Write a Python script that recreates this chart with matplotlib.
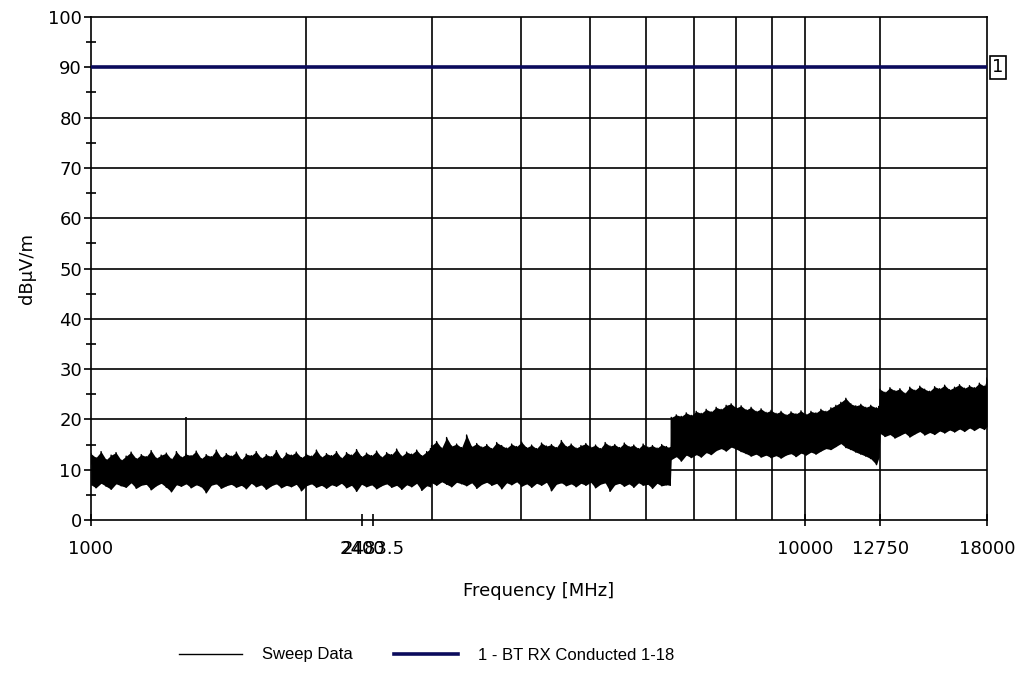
import matplotlib
matplotlib.use("Agg")
import matplotlib.pyplot as plt
import numpy as np

plt.rcParams['font.family'] = ['DejaVu Sans']

# ---- data (sweep envelope, per segment) ----
freq_a = [1000, 1016, 1033, 1050, 1067, 1084, 1102, 1120, 1138, 1157, 1176, 1195, 1214, 1234,
          1254, 1275, 1296, 1317, 1338, 1359, 1381, 1404, 1427, 1450, 1474, 1498, 1522, 1547,
          1572, 1598, 1624, 1650, 1677, 1704, 1732, 1760, 1789, 1818, 1848, 1878, 1908, 1939,
          1971, 2003, 2036, 2069, 2103, 2137, 2172, 2207, 2243, 2280, 2317, 2355, 2393, 2432,
          2472, 2512, 2553, 2595, 2637, 2680, 2724, 2768, 2813, 2859, 2906, 2953, 2990]
hi_a = [13.2, 12.4, 13.6, 12.0, 12.9, 13.4, 11.9, 12.7, 13.5, 12.2,
        13.0, 12.6, 13.8, 12.3, 12.9, 13.3, 12.1, 13.6, 12.5, 13.1,
        12.8, 13.7, 12.2, 13.0, 12.6, 13.9, 12.4, 13.2, 12.7, 13.5,
        12.0, 13.1, 12.8, 13.6, 12.3, 13.0, 12.6, 13.8, 12.2, 13.3,
        12.9, 13.5, 12.4, 13.1, 12.7, 13.9, 12.5, 13.2, 12.8, 13.6,
        12.3, 13.4, 12.9, 14.0, 12.6, 13.3, 12.8, 13.7, 12.5, 13.4,
        13.0, 14.1, 12.7, 13.5, 13.1, 13.9, 12.8, 13.6, 14.2]
lo_a = [7.0, 6.4, 7.3, 6.7, 6.1, 7.2, 6.8, 6.5, 7.4, 6.3,
        6.9, 7.1, 6.0, 6.8, 7.3, 6.5, 5.6, 7.0, 6.7, 7.2,
        6.4, 7.0, 6.6, 5.4, 6.9, 7.2, 6.3, 6.8, 7.1, 6.5,
        6.9, 6.2, 7.3, 6.6, 7.0, 6.1, 6.8, 7.2, 6.4, 6.9,
        6.6, 7.1, 5.8, 6.8, 7.2, 6.5, 6.9, 6.3, 7.0, 6.7,
        7.3, 6.4, 6.9, 5.7, 7.1, 6.6, 7.0, 6.2, 6.8, 7.2,
        6.5, 6.9, 6.1, 7.0, 6.6, 7.3, 5.9, 6.8, 6.6]

freq_b = [3000, 3049, 3099, 3149, 3200, 3252, 3305, 3359, 3414, 3470,
          3527, 3584, 3642, 3701, 3761, 3822, 3884, 3947, 4011, 4076,
          4142, 4209, 4277, 4346, 4416, 4487, 4559, 4632, 4706, 4781,
          4857, 4934, 5012, 5091, 5171, 5252, 5334, 5417, 5501, 5586,
          5672, 5759, 5847, 5936, 6026, 6117, 6209, 6302, 6400, 6480]
hi_b = [14.8, 15.6, 14.3, 16.4, 14.7, 15.1, 14.4, 16.9, 14.6, 15.2,
        14.5, 15.0, 14.2, 15.4, 14.8, 14.3, 15.1, 14.6, 15.5, 14.4,
        14.9, 14.2, 15.3, 14.7, 15.0, 14.4, 15.8, 14.6, 15.1, 14.3,
        14.8, 15.2, 14.5, 14.9, 14.2, 15.4, 14.7, 15.0, 14.4, 15.3,
        14.6, 14.9, 14.2, 15.1, 14.5, 14.8, 14.3, 15.0, 14.6, 14.4]
lo_b = [7.4, 6.9, 7.6, 7.1, 6.6, 7.5, 7.2, 6.8, 7.4, 6.3,
        7.1, 7.5, 6.9, 7.3, 6.2, 7.4, 7.0, 7.6, 6.7, 7.2,
        6.5, 7.3, 6.9, 7.5, 5.8, 7.1, 7.4, 6.8, 7.2, 6.6,
        7.3, 6.9, 7.5, 6.4, 7.1, 7.4, 5.7, 7.0, 7.3, 6.7,
        7.2, 6.5, 7.4, 6.9, 7.1, 6.3, 7.3, 6.8, 7.0, 6.9]

freq_c = [6500, 6606, 6713, 6822, 6933, 7045, 7159, 7275, 7393, 7513,
          7635, 7759, 7885, 8013, 8143, 8275, 8409, 8545, 8684, 8825,
          8968, 9113, 9261, 9411, 9564, 9719, 9877, 10037, 10200, 10365,
          10533, 10704, 10878, 11054, 11233, 11415, 11600, 11788, 11979, 12173,
          12370, 12600, 12700]
hi_c = [20.4, 20.9, 20.6, 21.3, 20.8, 21.6, 21.2, 22.0, 21.5, 22.4,
        22.0, 22.8, 23.1, 22.3, 22.7, 21.9, 22.4, 21.6, 22.1, 21.4,
        21.8, 21.2, 21.6, 20.9, 21.5, 21.1, 21.7, 21.0, 21.6, 21.3,
        22.0, 21.6, 22.3, 22.8, 23.4, 24.2, 23.1, 22.7, 23.0, 22.4,
        22.8, 22.3, 22.6]
lo_c = [12.0, 12.6, 11.7, 12.9, 12.4, 13.0, 12.5, 13.4, 13.0, 13.8,
        14.2, 13.7, 14.5, 14.1, 13.6, 13.2, 12.7, 13.1, 12.5, 12.9,
        12.4, 12.8, 12.3, 12.9, 13.2, 12.6, 13.3, 12.9, 13.5, 13.1,
        13.7, 14.2, 14.0, 14.6, 15.2, 14.4, 14.0, 13.5, 13.1, 12.7,
        12.2, 11.0, 12.4]

freq_d = [12750, 12950, 13160, 13370, 13590, 13810, 14030, 14260, 14490, 14720,
          14960, 15200, 15450, 15700, 15950, 16210, 16470, 16740, 17010, 17280,
          17560, 17850, 18000]
hi_d = [26.0, 25.4, 26.3, 25.7, 26.1, 25.2, 26.4, 25.8, 26.6, 26.0,
        25.6, 26.5, 26.1, 26.8, 25.9, 26.4, 26.9, 26.2, 26.7, 26.3,
        27.2, 26.6, 28.2]
lo_d = [17.2, 16.6, 17.0, 16.3, 16.8, 17.3, 16.5, 17.1, 17.6, 16.9,
        17.4, 17.0, 17.7, 17.3, 17.9, 17.5, 18.1, 17.6, 18.3, 17.8,
        18.4, 18.0, 18.6]

# narrow single-bin spike in the sweep
spike_freq = [1359]
spike_top = [20.5]
spike_base = [12.0]

limit_freq = [1000, 18000]
limit_val = [90, 90]

xtick_vals = [1000, 2400, 2483.5, 10000, 12750, 18000]
xtick_labels = ['1000', '2400', '2483.5', '10000', '12750', '18000']
xgrid_vals = [2000, 3000, 4000, 5000, 6000, 7000, 8000, 9000, 10000, 12750]
yticks = [0, 10, 20, 30, 40, 50, 60, 70, 80, 90, 100]
yminor = [5, 15, 25, 35, 45, 55, 65, 75, 85, 95]

# ---- figure ----
fig = plt.figure(figsize=(10.2, 6.96), dpi=100)
ax = fig.add_axes([91/1020, 1-520/696, (987-91)/1020, (520-17)/696])
ax.set_xscale('log')
ax.set_xlim(1000, 18000)
ax.set_ylim(0, 100)

for g in xgrid_vals:
    ax.axvline(g, color='black', lw=1.2, zorder=1)
for yv in yticks[1:-1]:
    ax.axhline(yv, color='black', lw=1.2, zorder=1)

fq = np.array(freq_a + freq_b + freq_c + freq_d, dtype=float)
hi = np.array(hi_a + hi_b + hi_c + hi_d)
lo = np.array(lo_a + lo_b + lo_c + lo_d)

ax.fill_between(fq, lo, hi, color='black', lw=0, zorder=2)
zx = np.repeat(fq, 2)
zy = np.ravel(np.column_stack([lo, hi]))
line_sweep, = ax.plot(zx, zy, color='black', lw=1.0, zorder=3, label='Sweep Data')
ax.vlines(spike_freq, spike_base, spike_top, color='black', lw=1.2, zorder=3)

line_lim, = ax.plot(limit_freq, limit_val, color='#0b0b5c', lw=2.6, zorder=4,
                    label='1 - BT RX Conducted 1-18')
ax.text(1.0123, 90, '1', transform=ax.get_yaxis_transform(), ha='center', va='center',
        fontsize=13, bbox=dict(boxstyle='square,pad=0.15', fc='white', ec='black', lw=1.2),
        clip_on=False)

ax.set_xticks(xtick_vals)
ax.set_xticklabels(xtick_labels)
ax.xaxis.set_minor_locator(matplotlib.ticker.NullLocator())
ax.set_yticks(yticks)
ax.set_yticks(yminor, minor=True)
ax.tick_params(axis='x', which='major', direction='inout', length=9, width=1.2, pad=10,
               labelsize=13)
ax.tick_params(axis='y', which='major', direction='out', length=5, width=1.2, pad=1.5,
               labelsize=13)
ax.tick_params(axis='y', which='minor', direction='inout', length=7, width=1.2)
for s in ax.spines.values():
    s.set_linewidth(1.2)
    s.set_color('black')

ax.set_xlabel('Frequency [MHz]', fontsize=13, labelpad=17)
ax.set_ylabel('dBµV/m', fontsize=13, labelpad=9)

fig.legend(handles=[line_sweep, line_lim], loc='center', bbox_to_anchor=(0.418, 1-655/696),
           ncol=2, frameon=False, prop={'family': 'Liberation Sans', 'size': 12},
           handlelength=3.8, columnspacing=2.5, handletextpad=1.2)

fig.savefig('out.png', dpi=100)
